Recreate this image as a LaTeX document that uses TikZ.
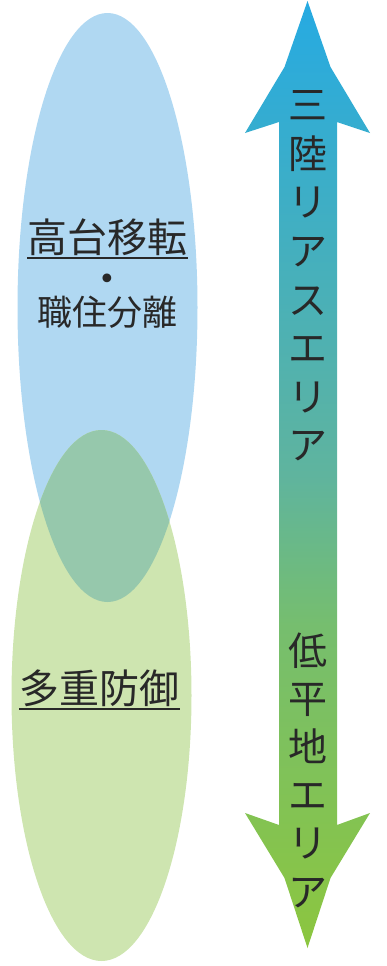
\documentclass[tikz,border=0pt]{standalone}
\usepackage{fontspec}
\setmainfont{Noto Sans CJK JP}
\newfontfamily\dotfont{DejaVu Sans}
\definecolor{hiblue}{RGB}{176,216,242}
\definecolor{logreen}{RGB}{206,229,176}
\definecolor{bothcol}{RGB}{150,200,172}
\definecolor{txtgray}{RGB}{40,40,40}
\definecolor{arrowtop}{RGB}{38,170,226}
\definecolor{arrowmid}{RGB}{95,180,158}
\definecolor{arrowlow}{RGB}{118,190,110}
\definecolor{arrowbot}{RGB}{140,198,63}
\pgfdeclareverticalshading{areagrad}{100bp}{color(0bp)=(arrowbot); color(25bp)=(arrowbot); color(42bp)=(arrowlow); color(50bp)=(arrowmid); color(75bp)=(arrowtop); color(100bp)=(arrowtop)}
\begin{document}
\begin{tikzpicture}[x=1bp, y=-1bp,
    kanji/.style={text=txtgray, inner sep=0pt, outer sep=0pt},
    uline/.style={txtgray, line width=1.3bp}]
    \useasboundingbox (0,0) rectangle (386,966);
    % Ellipses and their overlap
    \fill[hiblue] (107.5,307.5) ellipse [x radius=90, y radius=294.5];
    \fill[logreen] (101.5,695.5) ellipse [x radius=90, y radius=265.5];
    \begin{scope}
        \clip (107.5,307.5) ellipse [x radius=90, y radius=294.5];
        \fill[bothcol] (101.5,695.5) ellipse [x radius=90, y radius=265.5];
    \end{scope}
    % Labels in the ellipses
    \node[kanji, font=\fontsize{40bp}{48bp}\selectfont] (kodai) at (107.5,237.5) {高台移転};
    \draw[uline] ([yshift=-2bp]kodai.south west) -- ([yshift=-2bp]kodai.south east);
    \node[kanji, anchor=base, font=\dotfont\fontsize{30bp}{32bp}\selectfont] (nakaten) at (107.5,289) {•};
    \node[kanji, font=\fontsize{35bp}{42bp}\selectfont] (shokuju) at (107.5,312.5) {職住分離};
    \node[kanji, font=\fontsize{40bp}{48bp}\selectfont] (tajuu) at (99.5,688.5) {多重防御};
    \draw[uline] ([yshift=-2bp]tajuu.south west) -- ([yshift=-2bp]tajuu.south east);
    % Double arrow with gradient
    \shade[shading=areagrad] (307.5,1) -- (330.5,67) -- (370,133) -- (337,122)
        -- (337,825) -- (370,813) -- (330.5,878) -- (307.5,948) -- (284.5,878)
        -- (245,813) -- (279,825) -- (279,122) -- (245,133) -- (284.5,67) -- cycle;
    % Area names, one character per line
    \node[kanji, align=center, font=\fontsize{39bp}{48.6bp}\selectfont] (sanriku) at (307.5,276)
        {三\\陸\\リ\\ア\\ス\\エ\\リ\\ア};
    \node[kanji, align=center, font=\fontsize{39bp}{48.2bp}\selectfont] (teiheichi) at (307.5,770)
        {低\\平\\地\\エ\\リ\\ア};
\end{tikzpicture}
\end{document}
